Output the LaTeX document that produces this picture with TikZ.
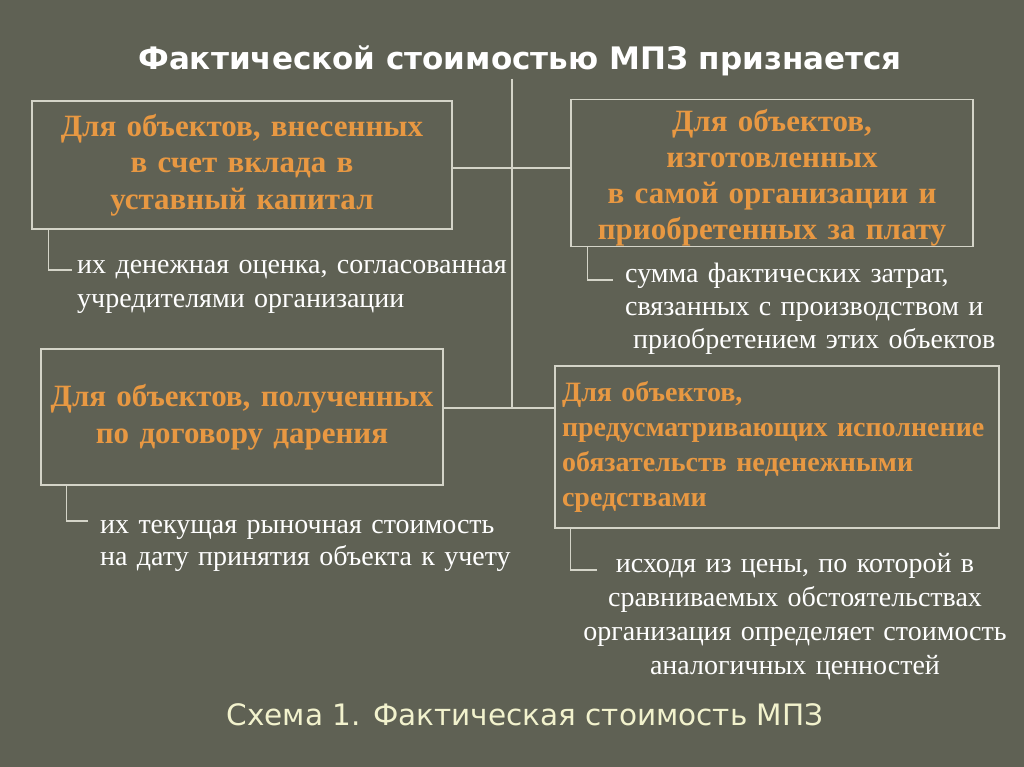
\documentclass[tikz,border=0pt]{standalone}
\usepackage{fontspec}
\setmainfont{Liberation Serif}
\newfontfamily\headfont{DejaVu Sans}
\usetikzlibrary{positioning}
\definecolor{slide}{RGB}{95,97,84}
\definecolor{linecol}{RGB}{212,212,200}
\definecolor{boxtext}{RGB}{232,152,66}
\definecolor{pale}{RGB}{242,242,205}

\begin{document}
\begin{tikzpicture}[x=1pt,y=-1pt,
  box/.style={draw=linecol,line width=1.3pt,inner sep=4pt,text=boxtext,font=\bfseries\fontsize{31}{36.5}\selectfont},
  note/.style={text=white,inner sep=0pt,anchor=base west,align=left,font=\fontsize{28}{33}\selectfont},
  link/.style={draw=linecol,line width=1.3pt}]
\fill[slide] (0,0) rectangle (1024,767);
\useasboundingbox (0,0) rectangle (1024,767);

\node[font=\headfont\bfseries\fontsize{31}{36}\selectfont,text=white,anchor=base,inner sep=2pt] (title) at (520,70) {Фактической стоимостью МПЗ признается};

% boxes
\node[box,minimum width=420pt,minimum height=128pt,text width=404pt,align=center] (b1) at (242,165) {Для объектов, внесенных\\в счет вклада в\\уставный капитал};
\node[box,minimum width=402pt,minimum height=144pt,inner ysep=0pt,text width=394pt,align=center,font=\bfseries\fontsize{31}{36}\selectfont] (b2) at (772,173) {\rule{0pt}{32pt}Для объектов,\\изготовленных\\в самой организации и\\приобретенных за плату};
\node[box,minimum width=402pt,minimum height=136pt,text width=394pt,align=center] (b3) at (242,417) {Для объектов, полученных\\по договору дарения};
\node[box,minimum width=444pt,minimum height=162pt,inner xsep=7pt,text width=430pt,align=left,font=\bfseries\fontsize{28}{35}\selectfont] (b4) at (777,447) {Для объектов,\\предусматривающих исполнение\\обязательств неденежными\\средствами};

% trunk
\coordinate (top) at (512,168);
\coordinate (bot) at (512,408);
\draw[link] (title.south -| top) -- (bot);
\draw[link] (b1.east |- top) -- (b2.west |- top);
\draw[link] (b3.east |- bot) -- (b4.west |- bot);

% what the value is
\node[note,text width=450pt,font=\fontsize{28}{34}\selectfont] (n1) at (77,273) {их денежная оценка, согласованная\\учредителями организации};
\node[note,text width=390pt] (n2) at (625,282) {сумма фактических затрат,\\связанных с производством и\\\hspace*{8pt}приобретением этих объектов};
\node[note,text width=420pt,font=\fontsize{28}{32}\selectfont] (n3) at (100,533) {их текущая рыночная стоимость\\на дату принятия объекта к учету};
\node[note,text width=440pt,align=center,anchor=base,font=\fontsize{28}{34}\selectfont] (n4) at (795,572) {исходя из цены, по которой в\\сравниваемых обстоятельствах\\организация определяет стоимость\\аналогичных ценностей};

\coordinate (k1) at (72,270);
\coordinate (k2) at (613,280);
\coordinate (k3) at (88,521);
\coordinate (k4) at (597,570);
\draw[link] ([xshift=17pt]b1.south west) |- (k1);
\draw[link] ([xshift=17pt]b2.south west) |- (k2);
\draw[link] ([xshift=26pt]b3.south west) |- (k3);
\draw[link] ([xshift=16pt]b4.south west) |- (k4);

\node[font=\headfont\fontsize{29.5}{34}\selectfont,text=pale,anchor=base] (cap) at (525,725) {Схема 1. Фактическая стоимость МПЗ};
\end{tikzpicture}
\end{document}
